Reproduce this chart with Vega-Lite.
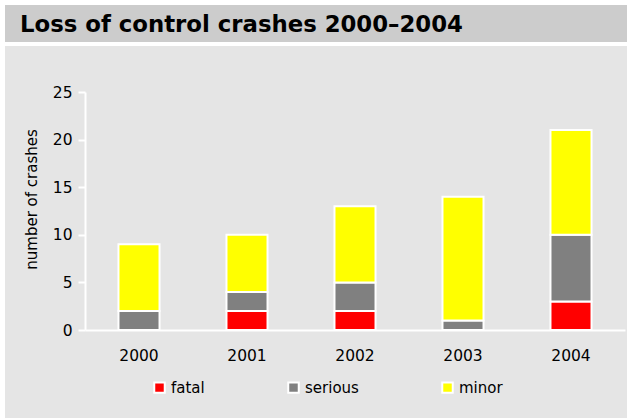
{
  "$schema": "https://vega.github.io/schema/vega-lite/v6.json",
  "background": "white",
  "padding": {"left": 5, "top": 5, "right": 0, "bottom": 0},
  "spacing": 4,
  "config": {
    "font": "DejaVu Sans",
    "view": {"stroke": null}
  },
  "vconcat": [
    {
      "width": 622,
      "height": 37,
      "view": {"fill": "#cccccc", "stroke": null},
      "data": {"values": [{"title": "Loss of control crashes 2000–2004"}]},
      "mark": {"type": "text", "align": "left", "baseline": "alphabetic", "dx": 15, "dy": 8.5, "font": "DejaVu Sans", "fontSize": 22.8, "fontWeight": "bold", "color": "#000000"},
      "encoding": {
        "text": {"field": "title"},
        "x": {"datum": 0, "type": "quantitative", "scale": {"domain": [0, 1]}, "axis": null}
      }
    },
    {
      "width": 622,
      "height": 372,
      "view": {"fill": "#e5e5e5", "stroke": null},
      "data": {
        "values": [
          {"year": "2000", "severity": "fatal", "count": 0, "order": 1},
          {"year": "2000", "severity": "serious", "count": 2, "order": 2},
          {"year": "2000", "severity": "minor", "count": 7, "order": 3},
          {"year": "2001", "severity": "fatal", "count": 2, "order": 1},
          {"year": "2001", "severity": "serious", "count": 2, "order": 2},
          {"year": "2001", "severity": "minor", "count": 6, "order": 3},
          {"year": "2002", "severity": "fatal", "count": 2, "order": 1},
          {"year": "2002", "severity": "serious", "count": 3, "order": 2},
          {"year": "2002", "severity": "minor", "count": 8, "order": 3},
          {"year": "2003", "severity": "fatal", "count": 0, "order": 1},
          {"year": "2003", "severity": "serious", "count": 1, "order": 2},
          {"year": "2003", "severity": "minor", "count": 13, "order": 3},
          {"year": "2004", "severity": "fatal", "count": 3, "order": 1},
          {"year": "2004", "severity": "serious", "count": 7, "order": 2},
          {"year": "2004", "severity": "minor", "count": 11, "order": 3}
        ]
      },
      "mark": {"type": "bar", "stroke": "white", "strokeWidth": 2},
      "encoding": {
        "x": {
          "field": "year",
          "type": "nominal",
          "scale": {"range": [80, 620], "paddingInner": 0.62, "paddingOuter": 0.31},
          "axis": {
            "title": null,
            "orient": "bottom",
            "offset": -88,
            "domainColor": "white",
            "domainWidth": 2,
            "ticks": false,
            "tickSize": 0,
            "labelPadding": 18,
            "labelFontSize": 15.5,
            "labelColor": "#000000",
            "labelAngle": 0
          }
        },
        "y": {
          "field": "count",
          "type": "quantitative",
          "stack": "zero",
          "scale": {"domain": [0, 25], "range": [284, 46], "nice": false},
          "axis": {
            "title": "number of crashes",
            "offset": -80,
            "values": [0, 5, 10, 15, 20, 25],
            "grid": false,
            "domainColor": "white",
            "domainWidth": 2,
            "tickColor": "white",
            "tickWidth": 2,
            "tickSize": 7,
            "labelPadding": 6,
            "labelFontSize": 15.5,
            "labelColor": "#000000",
            "titleFontSize": 15,
            "titleFontWeight": "normal",
            "titleColor": "#000000",
            "titleX": -49,
            "titleY": 153,
            "titleAngle": -90,
            "titleAlign": "center",
            "titleBaseline": "alphabetic"
          }
        },
        "color": {
          "field": "severity",
          "type": "nominal",
          "scale": {"domain": ["fatal", "serious", "minor"], "range": ["#ff0000", "#808080", "#ffff00"]},
          "legend": {
            "title": null,
            "orient": "none",
            "legendX": 147,
            "legendY": 375,
            "direction": "horizontal",
            "symbolType": "square",
            "symbolSize": 110,
            "symbolStrokeColor": "white",
            "symbolStrokeWidth": 2,
            "symbolOpacity": 1,
            "labelFontSize": 15,
            "labelColor": "#000000",
            "labelOffset": 4,
            "columnPadding": 79,
            "padding": 0
          }
        },
        "order": {"field": "order", "type": "quantitative"}
      }
    }
  ]
}
